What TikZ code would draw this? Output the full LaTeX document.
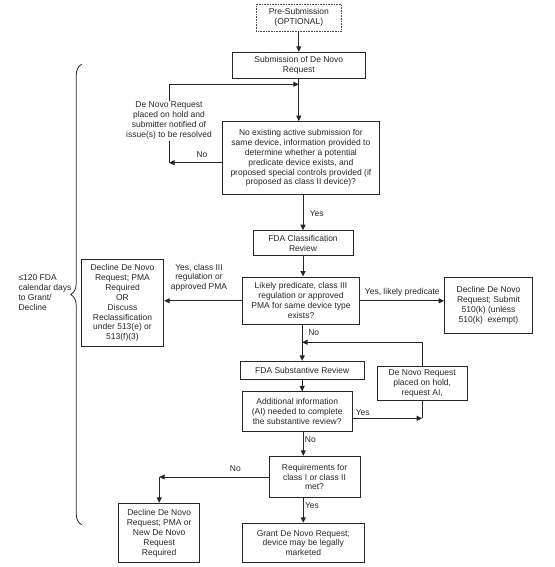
\documentclass[tikz,border=0pt]{standalone}
\usepackage{fontspec}
\setmainfont{Liberation Sans}
\usetikzlibrary{arrows.meta,decorations.pathreplacing}

\begin{document}
\begin{tikzpicture}[x=1pt, y=-1pt, line width=1pt, >={Triangle[length=5.5pt,width=5pt]},
    every node/.style={font=\fontsize{8.5}{9.9}\selectfont, text=black!85}, align=center,
    box/.style={rectangle, draw=black!85, inner sep=1pt}]
\useasboundingbox (0,0) rectangle (554,567);
% Define blocks
\node (pre) [box, densely dotted, draw=black!70, line width=0.6pt, minimum width=85pt, minimum height=26.7pt] at (298.8,17.7) {Pre-Submission\\(OPTIONAL)};
\node (sub) [box, minimum width=133pt, minimum height=26pt] at (298.8,65.3) {Submission of De Novo\\Request};
\node (d1) [box, minimum width=156.3pt, minimum height=72.6pt] at (300.9,158) {No existing active submission for\\same device, information provided to\\determine whether a potential\\predicate device exists, and\\proposed special controls provided (if\\proposed as class II device)?};
\node (class) [box, minimum width=100pt, minimum height=25pt] at (303,243.2) {FDA Classification\\Review};
\node (d2) [box, minimum width=117.4pt, minimum height=47.5pt] at (301,300.8) {Likely predicate, class III\\regulation or approved\\PMA for same device type\\exists?};
\node (declineL) [box, minimum width=82.4pt, minimum height=87.4pt] at (122.5,303) {Decline De Novo\\Request; PMA\\Required\\OR\\Discuss\\Reclassification\\under 513(e) or\\513(f)(3)};
\node (declineR) [box, minimum width=87.6pt, minimum height=56pt] at (488.5,305.3) {Decline De Novo\\Request; Submit\\510(k) (unless\\510(k)\ \ exempt)};
\node (subst) [box, minimum width=123.7pt, minimum height=17.7pt] at (302.2,370.2) {FDA Substantive Review};
\node (hold2) [box, minimum width=90.3pt, minimum height=34.4pt] at (422.2,383.5) {De Novo Request\\placed on hold,\\request AI,};
\node (d3) [box, minimum width=110.3pt, minimum height=39.7pt] at (297.2,411.8) {Additional information\\(AI) needed to complete\\the substantive review?};
\node (d4) [box, minimum width=91pt, minimum height=41.4pt] at (314.5,477) {Requirements for\\class I or class II\\met?};
\node (declineB) [box, minimum width=81pt, minimum height=59.4pt] at (159.2,533) {Decline De Novo\\Request; PMA or\\New De Novo\\Request\\Required};
\node (grant) [box, minimum width=122pt, minimum height=39.4pt] at (303.3,543) {Grant De Novo Request;\\device may be legally\\marketed};
\node (hold1) [inner sep=1pt] at (169,120.7) {De Novo Request\\placed on hold and\\submitter notified of\\issue(s) to be resolved};
\node (days) [anchor=west, align=left, inner sep=1pt] at (17,292.7) {≤120 FDA\\calendar days\\to Grant/\\Decline};

% Joints
\coordinate (tj) at (sub.south |- 0,84.3);
\coordinate (nj) at (hold1.south |- 0,162.7);
\coordinate (fj) at (subst.north |- 0,342.3);
\coordinate (yj) at (hold2.south |- 0,418.3);
\coordinate (nb) at (declineB.north |- d4.west);
\coordinate (bt) at (81.7,64.3);
\coordinate (bb) at (81.7,524.7);

% Draw arrows
\begin{scope}[draw=black!85]
\draw[->] (pre.south) -- (pre.south |- sub.north);
\draw[->] (sub.south) -- (sub.south |- d1.north);
\draw[->] (hold1.north) -- (hold1.north |- tj) -- (tj);
\draw[->] (d1.west |- nj) -- (nj);
\draw (hold1.south) -- (nj);
\draw[->] (class.north |- d1.south) -- (class.north);
\draw[->] (class.south) -- (class.south |- d2.north);
\draw[->] (d2.west) -- (d2.west -| declineL.east);
\draw[->] (d2.east) -- (d2.east -| declineR.west);
\draw[->] (subst.north |- d2.south) -- (subst.north);
\draw[->] (hold2.north) -- (hold2.north |- fj) -- (fj);
\draw[->] (subst.south) -- (subst.south |- d3.north);
\draw[->] (d3.east |- yj) -- (yj);
\draw (yj) -- (hold2.south);
\draw[->] (grant.north |- d3.south) -- (grant.north |- d4.north);
\draw[->] (d4.west) -- (nb);
\draw[->] (nb) -- (declineB.north);
\draw[->] (grant.north |- d4.south) -- (grant.north);
\draw[line width=0.8pt, decorate, decoration={brace, amplitude=11pt}] (bb) -- (bt);
\end{scope}

% Labels
\node (no1) at (202,154.7) {No};
\node (yes1) at (316.7,213.3) {Yes};
\node (yesL) at (199,277.7) {Yes, class III\\regulation or\\approved PMA};
\node (yesR) at (402.3,292) {Yes, likely predicate};
\node (no2) at (313.7,332.7) {No};
\node (yes2) at (362.7,412.3) {Yes};
\node (no3) at (310.3,440) {No};
\node (no4) at (235.3,468.3) {No};
\node (yes3) at (312,505.7) {Yes};
\end{tikzpicture}
\end{document}
